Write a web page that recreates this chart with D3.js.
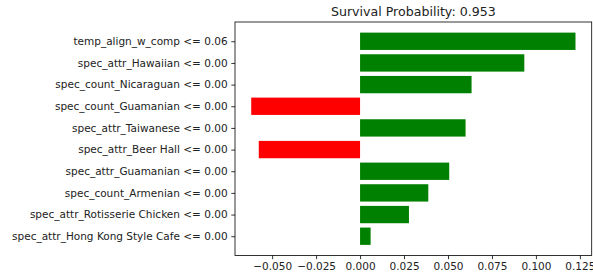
<!DOCTYPE html>
<html>
<head>
<meta charset="utf-8">
<script src="https://cdn.jsdelivr.net/npm/d3@7"></script>
<style>
  body { margin: 0; background: #fff; }
  svg { display: block; font-family: "DejaVu Sans", sans-serif; }
</style>
</head>
<body>
<div id="chart"></div>
<script>
var features = [
    "temp_align_w_comp <= 0.06",
    "spec_attr_Hawaiian <= 0.00",
    "spec_count_Nicaraguan <= 0.00",
    "spec_count_Guamanian <= 0.00",
    "spec_attr_Taiwanese <= 0.00",
    "spec_attr_Beer Hall <= 0.00",
    "spec_attr_Guamanian <= 0.00",
    "spec_count_Armenian <= 0.00",
    "spec_attr_Rotisserie Chicken <= 0.00",
    "spec_attr_Hong Kong Style Cafe <= 0.00"
];
var weights = [0.1225, 0.0934, 0.0634, -0.0619, 0.0600, -0.0576, 0.0507, 0.0388, 0.0278, 0.0060];
var xTicks = [-0.050, -0.025, 0.000, 0.025, 0.050, 0.075, 0.100, 0.125];
var title = "Survival Probability: 0.953";

(function() {
    var width = 593,
        height = 280;
    var margin = {top: 22, right: 1.3, bottom: 24.5, left: 235};
    var innerW = width - margin.left - margin.right,
        innerH = height - margin.top - margin.bottom;

    var svg = d3.select("#chart")
        .append("svg")
        .attr("width", width)
        .attr("height", height);

    var g = svg.append("g")
        .attr("transform", "translate(" + margin.left + "," + margin.top + ")");

    // matplotlib-like 5% margins around the data
    var lo = Math.min(0, d3.min(weights)),
        hi = Math.max(0, d3.max(weights)),
        pad = (hi - lo) * 0.05;

    var x = d3.scaleLinear()
        .domain([lo - pad, hi + pad])
        .range([0, innerW]);

    var n = features.length;
    var ypad = (n - 1 + 0.8) * 0.05 + 0.4;
    var y = d3.scaleLinear()
        .domain([-ypad, n - 1 + ypad])
        .range([0, innerH]);

    var barH = y(0.4) - y(-0.4);

    g.selectAll(".bar")
        .data(weights)
        .enter().append("rect")
        .attr("class", "bar")
        .attr("x", function(d) { return x(Math.min(0, d)); })
        .attr("width", function(d) { return Math.abs(x(d) - x(0)); })
        .attr("y", function(d, i) { return y(i) - barH / 2; })
        .attr("height", barH)
        .attr("fill", function(d) { return d > 0 ? "#008000" : "#ff0000"; });

    var xAxis = d3.axisBottom(x)
        .tickValues(xTicks)
        .tickFormat(d3.format(".3f"))
        .tickSize(3.7)
        .tickPadding(3.6);

    var xg = g.append("g")
        .attr("transform", "translate(0," + innerH + ")")
        .call(xAxis);

    var yAxis = d3.axisLeft(y)
        .tickValues(d3.range(n))
        .tickFormat(function(i) { return features[i]; })
        .tickSize(3.7)
        .tickPadding(3.7);

    var yg = g.append("g").call(yAxis);

    [xg, yg].forEach(function(a) {
        a.attr("font-family", null).attr("font-size", null);
        a.select(".domain").remove();
        a.selectAll("line").attr("stroke", "#000").attr("stroke-width", 0.8);
        a.selectAll("text")
            .attr("fill", "#222")
            .style("font-size", "10.5px")
            .style("font-family", "'DejaVu Sans', sans-serif");
    });

    // frame
    g.append("rect")
        .attr("x", 0)
        .attr("y", 0)
        .attr("width", innerW)
        .attr("height", innerH)
        .attr("fill", "none")
        .attr("stroke", "#000")
        .attr("stroke-width", 0.8);

    svg.append("text")
        .attr("x", margin.left + innerW / 2)
        .attr("y", 16)
        .attr("text-anchor", "middle")
        .style("font-size", "12.6px")
        .style("font-family", "'DejaVu Sans', sans-serif")
        .attr("fill", "#222")
        .text(title);
})();
</script>
</body>
</html>
